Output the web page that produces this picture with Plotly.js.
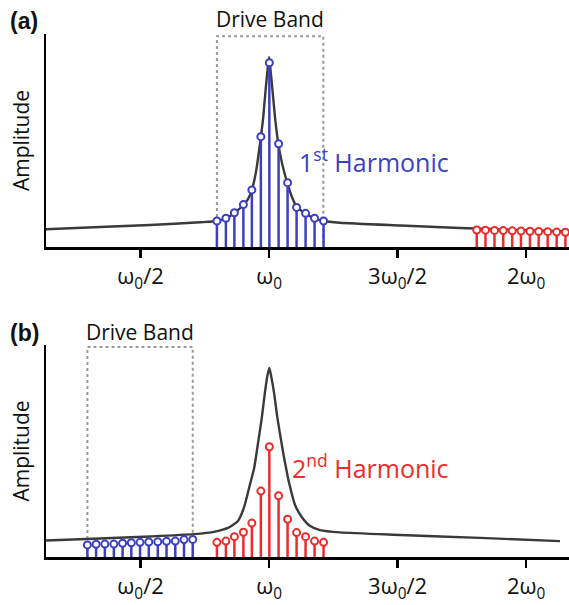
<!DOCTYPE html>
<html>
<head>
<meta charset="utf-8">
<script src="https://cdn.plot.ly/plotly-3.0.1.min.js"></script>
<style>html,body{margin:0;padding:0;background:#fff;}</style>
</head>
<body>
<div id="chart" style="width:569px;height:605px;"></div>
<script>
// ---- data (x in units of ω/ω0, amplitude in arbitrary units) ----
const xTickVals = [0.5, 1, 1.5, 2];
const xTickText = ['ω<sub>0</sub>/2', 'ω<sub>0</sub>', '3ω<sub>0</sub>/2', '2ω<sub>0</sub>'];

// panel (a)
const curveA_x = [0.132, 0.342, 0.537, 0.732, 0.797, 0.832, 0.865, 0.900, 0.918, 0.933, 0.949, 0.968, 0.977, 0.984, 0.992, 1.000, 1.008, 1.016, 1.025, 1.036, 1.051, 1.071, 1.089, 1.106, 1.141, 1.176, 1.211, 1.276, 1.510, 1.743, 1.977, 2.167];
const curveA_y = [0.083, 0.094, 0.103, 0.116, 0.122, 0.134, 0.160, 0.197, 0.225, 0.268, 0.352, 0.516, 0.606, 0.704, 0.808, 0.892, 0.803, 0.700, 0.587, 0.484, 0.390, 0.300, 0.235, 0.192, 0.157, 0.135, 0.122, 0.114, 0.101, 0.089, 0.080, 0.073];
const blueA_x = [0.797, 0.832, 0.865, 0.900, 0.933, 0.968, 1.001, 1.037, 1.072, 1.107, 1.142, 1.177, 1.212];
const blueA_y = [0.122, 0.135, 0.161, 0.199, 0.268, 0.518, 0.865, 0.485, 0.302, 0.186, 0.158, 0.135, 0.122];
const redA_x = [1.808, 1.842, 1.877, 1.911, 1.946, 1.980, 2.015, 2.049, 2.084, 2.119, 2.153];
const redA_y = [0.080, 0.079, 0.078, 0.077, 0.076, 0.075, 0.074, 0.073, 0.072, 0.070, 0.069];
const bandA = [0.797, 1.211];

// panel (b)
const curveB_x = [0.132, 0.342, 0.537, 0.708, 0.790, 0.840, 0.879, 0.903, 0.926, 0.942, 0.953, 0.972, 0.984, 0.994, 1.001, 1.008, 1.019, 1.032, 1.053, 1.066, 1.079, 1.101, 1.127, 1.160, 1.198, 1.276, 1.510, 1.821, 2.132];
const curveB_y = [0.078, 0.087, 0.097, 0.108, 0.120, 0.137, 0.170, 0.236, 0.344, 0.420, 0.505, 0.660, 0.778, 0.858, 0.892, 0.854, 0.778, 0.660, 0.505, 0.420, 0.344, 0.245, 0.189, 0.146, 0.127, 0.116, 0.104, 0.090, 0.075];
const blueB_x = [0.293, 0.327, 0.361, 0.396, 0.430, 0.464, 0.498, 0.532, 0.567, 0.601, 0.635, 0.669, 0.703];
const blueB_y = [0.057, 0.060, 0.061, 0.061, 0.065, 0.067, 0.069, 0.071, 0.072, 0.074, 0.075, 0.082, 0.083];
const redB_x = [0.797, 0.832, 0.865, 0.900, 0.933, 0.968, 1.001, 1.037, 1.072, 1.107, 1.142, 1.177, 1.212];
const redB_y = [0.069, 0.075, 0.096, 0.117, 0.160, 0.311, 0.520, 0.289, 0.178, 0.115, 0.096, 0.075, 0.069];
const bandB = [0.293, 0.703];

// ---- styles ----
const BLUE = '#3b3fc4';
const RED = '#ee2b2b';
const CURVE = '#3a3a3a';
const FONT = 'Open Sans, Noto Sans, sans-serif';

function stemTraces(xs, ys, color, xa, ya) {
  const lx = [], ly = [];
  xs.forEach((x, i) => { lx.push(x, x, null); ly.push(0, ys[i], null); });
  return [
    {x: lx, y: ly, xaxis: xa, yaxis: ya, mode: 'lines', line: {color: color, width: 2.5}, hoverinfo: 'skip'},
    {x: xs, y: ys, xaxis: xa, yaxis: ya, mode: 'markers',
     marker: {symbol: 'circle', size: 7, color: '#ffffff', line: {color: color, width: 2}}}
  ];
}

function curveTrace(xs, ys, xa, ya) {
  return {x: xs, y: ys, xaxis: xa, yaxis: ya, mode: 'lines',
          line: {color: CURVE, width: 2.4, shape: 'spline', smoothing: 0.6}, hoverinfo: 'skip'};
}

const traces = [
  curveTrace(curveA_x, curveA_y, 'x', 'y'),
  ...stemTraces(blueA_x, blueA_y, BLUE, 'x', 'y'),
  ...stemTraces(redA_x, redA_y, RED, 'x', 'y'),
  curveTrace(curveB_x, curveB_y, 'x2', 'y2'),
  ...stemTraces(blueB_x, blueB_y, BLUE, 'x2', 'y2'),
  ...stemTraces(redB_x, redB_y, RED, 'x2', 'y2')
];

function bandShape(band, xr, yr, top) {
  return {type: 'path', xref: xr, yref: yr, layer: 'below',
    path: `M ${band[0]},0 L ${band[0]},${top} L ${band[1]},${top} L ${band[1]},0`,
    line: {color: '#9a9a9a', width: 2, dash: 'dot'}};
}

const xAxisBase = {
  domain: [46 / 569, 1], range: [0.132, 2.167],
  showline: true, linecolor: '#000', linewidth: 2.5,
  ticks: 'outside', ticklen: 8, tickwidth: 2.5, tickcolor: '#000',
  tickvals: xTickVals, ticktext: xTickText,
  tickfont: {family: FONT, size: 22, color: '#111'},
  showgrid: false, zeroline: false, fixedrange: true
};
const yAxisBase = {
  range: [0, 1], showline: true, linecolor: '#000', linewidth: 2.5,
  showticklabels: false, ticks: '', showgrid: false, zeroline: false,
  title: {text: 'Amplitude', font: {family: FONT, size: 21, color: '#111'}, standoff: 8}
};

const layout = {
  width: 569, height: 605,
  margin: {l: 0, r: 0, t: 0, b: 0},
  paper_bgcolor: '#fff', plot_bgcolor: '#fff',
  showlegend: false,
  font: {family: FONT},
  xaxis: Object.assign({}, xAxisBase, {anchor: 'y'}),
  yaxis: Object.assign({}, yAxisBase, {anchor: 'x', domain: [(605 - 247) / 605, (605 - 34) / 605]}),
  xaxis2: Object.assign({}, xAxisBase, {anchor: 'y2'}),
  yaxis2: Object.assign({}, yAxisBase, {anchor: 'x2', domain: [(605 - 557) / 605, (605 - 345) / 605]}),
  shapes: [bandShape(bandA, 'x', 'y', 0.99), bandShape(bandB, 'x2', 'y2', 0.99)],
  annotations: [
    {text: '<b>(a)</b>', xref: 'paper', yref: 'paper', x: 8 / 569, y: (605 - 21) / 605, xanchor: 'left', yanchor: 'middle',
     showarrow: false, font: {family: 'Liberation Sans, Arial, sans-serif', size: 23, color: '#111'}},
    {text: '<b>(b)</b>', xref: 'paper', yref: 'paper', x: 8 / 569, y: (605 - 333) / 605, xanchor: 'left', yanchor: 'middle',
     showarrow: false, font: {family: 'Liberation Sans, Arial, sans-serif', size: 23, color: '#111'}},
    {text: 'Drive Band', xref: 'x', yref: 'paper', x: (bandA[0] + bandA[1]) / 2, y: (605 - 19) / 605, xanchor: 'center', yanchor: 'middle',
     showarrow: false, font: {family: FONT, size: 21, color: '#111'}},
    {text: 'Drive Band', xref: 'x2', yref: 'paper', x: (bandB[0] + bandB[1]) / 2, y: (605 - 332) / 605, xanchor: 'center', yanchor: 'middle',
     showarrow: false, font: {family: FONT, size: 21, color: '#111'}},
    {text: '1<sup>st</sup> Harmonic', xref: 'x', yref: 'y', x: 1.108, y: 0.408, xanchor: 'left', yanchor: 'middle',
     showarrow: false, font: {family: FONT, size: 25, color: BLUE}},
    {text: '2<sup>nd</sup> Harmonic', xref: 'x2', yref: 'y2', x: 1.082, y: 0.425, xanchor: 'left', yanchor: 'middle',
     showarrow: false, font: {family: FONT, size: 25, color: RED}}
  ]
};

Plotly.newPlot('chart', traces, layout, {staticPlot: true, displayModeBar: false});
</script>
</body>
</html>
